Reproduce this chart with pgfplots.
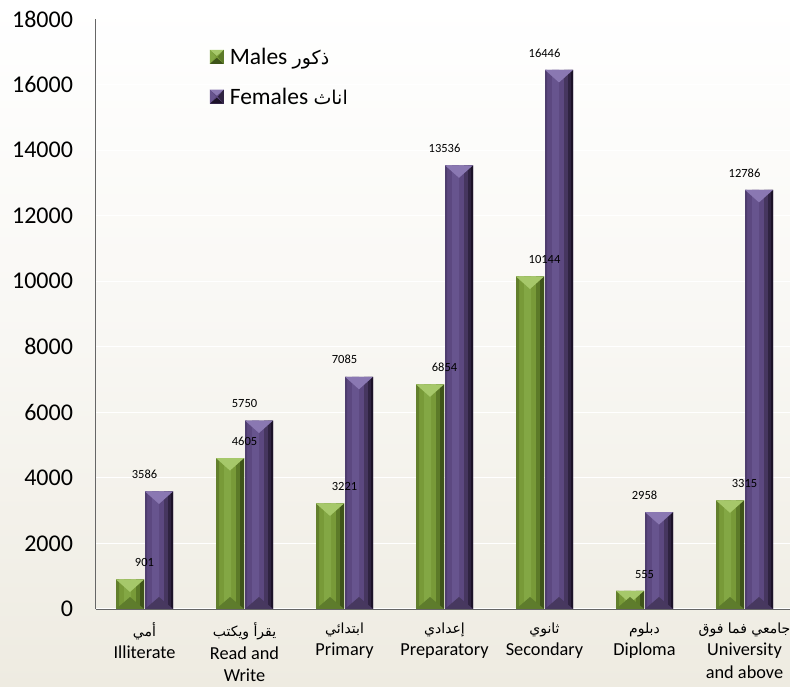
\documentclass[border=0pt]{standalone}
\usepackage{fontspec}
\setmainfont{Carlito}
\newfontfamily\arabicfont[Script=Arabic]{DejaVu Sans}
\usepackage{pgfplots}
\pgfplotsset{compat=1.18}
\usepackage{pgfplotstable}
\TeXXeTstate=1
\newcommand\arf{\arabicfont\fontsize{14bp}{17bp}\selectfont}
\newcommand\arl{\arabicfont\fontsize{19bp}{22bp}\selectfont}
\definecolor{gmid}{HTML}{789A38}
\definecolor{gedge}{HTML}{627F2C}
\definecolor{glight}{HTML}{83A744}
\definecolor{gdk1}{HTML}{5C7A28}
\definecolor{gdk2}{HTML}{3E5419}
\definecolor{gtop}{HTML}{A6C86A}
\definecolor{gbot}{HTML}{5E7C2C}
\definecolor{pmid}{HTML}{5C4880}
\definecolor{pedge}{HTML}{4E3D6E}
\definecolor{plight}{HTML}{67548E}
\definecolor{pdk1}{HTML}{46365F}
\definecolor{pdk2}{HTML}{2F2341}
\definecolor{pdk3}{HTML}{1C1228}
\definecolor{ptop}{HTML}{8A78B2}
\definecolor{pbot}{HTML}{47385F}
\definecolor{bgc}{HTML}{EEEBE1}
\pgfdeclareplotmark{toptri}{\pgfpathmoveto{\pgfpoint{-14bp}{0bp}}\pgfpathlineto{\pgfpoint{14bp}{0bp}}\pgfpathlineto{\pgfpoint{0bp}{-12.5bp}}\pgfpathclose\pgfusepathqfill}
\pgfdeclareplotmark{bottri}{\pgfpathmoveto{\pgfpoint{-14bp}{0bp}}\pgfpathlineto{\pgfpoint{14bp}{0bp}}\pgfpathlineto{\pgfpoint{0bp}{12bp}}\pgfpathclose\pgfusepathqfill}
\newcommand\stripe[4]{\addplot[ybar, bar width=#1, bar shift=#2, fill=#3, draw=none, forget plot] table[x=x,y=#4] {\data};}
\pgfplotstableread{
x m f
0 901 3586
1 4605 5750
2 3221 7085
3 6854 13536
4 10144 16446
5 555 2958
6 3315 12786
}\data
\begin{document}
\begin{tikzpicture}
\shade[top color=white, bottom color=bgc, middle color=white!60!bgc] (0,0) rectangle (790bp,687bp);
\useasboundingbox (0,0) rectangle (790bp,687bp);
\begin{axis}[
  at={(95.5bp,78bp)}, anchor=south west,
  scale only axis, width=694.5bp, height=590bp,
  xmin=-0.49, xmax=6.455, ymin=0, ymax=18000,
  axis x line*=bottom, axis y line*=left,
  axis line style={draw=gray!80!black, line width=0.8bp},
  major tick length=0pt,
  ytick={0,2000,...,18000},
  scaled y ticks=false,
  /pgf/number format/1000 sep={},
  /pgf/number format/assume math mode=true,
  yticklabel style={font=\fontsize{24bp}{28bp}\selectfont, xshift=-19bp},
  xtick={0,...,6},
  xticklabels={{{\arf\beginR أمي\endR}\\Illiterate},{{\arf\beginR يقرأ ويكتب\endR}\\Read and\\Write},{{\arf\beginR ابتدائي\endR}\\Primary},{{\arf\beginR إعدادي\endR}\\Preparatory},{{\arf\beginR ثانوي\endR}\\Secondary},{{\arf\beginR دبلوم\endR}\\Diploma},{{\arf\beginR جامعي فما فوق\endR}\\University\\and above}},
  xticklabel style={font=\fontsize{18.3bp}{22.5bp}\selectfont, align=center, yshift=-10bp},
  ymajorgrids, grid style={white, line width=1bp},
  legend style={at={(0.16,0.958)}, anchor=north west, draw=none, fill=none,
     font=\fontsize{23.5bp}{27bp}\selectfont, row sep=18bp, column sep=4bp, cells={anchor=west}},
]
\addplot[ybar, bar width=0.28, bar shift=-0.145, draw=none, fill=gmid,
  nodes near coords,
  nodes near coords style={font=\fontsize{12.5bp}{14bp}\selectfont, text=black, anchor=south, inner sep=0pt, yshift=12.5bp},
  legend image code/.code={\fill[gmid] (0bp,-7bp) rectangle (14bp,7bp);
    \fill[gtop] (0bp,7bp)--(14bp,7bp)--(7bp,1bp)--cycle;
    \fill[gdk2] (0bp,-7bp)--(14bp,-7bp)--(7bp,-1bp)--cycle;
    \fill[glight] (0bp,-7bp)--(0bp,7bp)--(6bp,0bp)--cycle;
    \fill[gdk1] (14bp,-7bp)--(14bp,7bp)--(8bp,0bp)--cycle;}
  ] table[x=x,y=m] {\data};
\addlegendentry{Males {\arl\beginR ذكور\endR}}
\addplot[ybar, bar width=0.28, bar shift=0.145, draw=none, fill=pmid,
  nodes near coords,
  nodes near coords style={font=\fontsize{12.5bp}{14bp}\selectfont, text=black, anchor=south, inner sep=0pt, yshift=12.5bp},
  legend image code/.code={\fill[pmid] (0bp,-7bp) rectangle (14bp,7bp);
    \fill[ptop] (0bp,7bp)--(14bp,7bp)--(7bp,1bp)--cycle;
    \fill[pdk3] (0bp,-7bp)--(14bp,-7bp)--(7bp,-1bp)--cycle;
    \fill[plight] (0bp,-7bp)--(0bp,7bp)--(6bp,0bp)--cycle;
    \fill[pdk2] (14bp,-7bp)--(14bp,7bp)--(8bp,0bp)--cycle;}
  ] table[x=x,y=f] {\data};
\addlegendentry{Females {\arl\beginR اناث\endR}}
% green facets
\stripe{0.03}{-0.27}{gedge}{m}
\stripe{0.07}{-0.17}{glight}{m}
\stripe{0.04}{-0.065}{gdk1}{m}
\stripe{0.04}{-0.025}{gdk2}{m}
% purple facets
\stripe{0.02}{0.015}{pedge}{f}
\stripe{0.07}{0.11}{plight}{f}
\stripe{0.04}{0.215}{pdk1}{f}
\stripe{0.03}{0.25}{pdk2}{f}
\stripe{0.02}{0.275}{pdk3}{f}
% bevels
\addplot[only marks, mark=toptri, mark options={fill=gtop, draw=none}, forget plot] table[x expr=\thisrow{x}-0.145, y=m] {\data};
\addplot[only marks, mark=bottri, mark options={fill=gbot, draw=none}, forget plot] table[x expr=\thisrow{x}-0.145, y expr=0] {\data};
\addplot[only marks, mark=toptri, mark options={fill=ptop, draw=none}, forget plot] table[x expr=\thisrow{x}+0.145, y=f] {\data};
\addplot[only marks, mark=bottri, mark options={fill=pbot, draw=none}, forget plot] table[x expr=\thisrow{x}+0.145, y expr=0] {\data};
\end{axis}
\end{tikzpicture}
\end{document}
